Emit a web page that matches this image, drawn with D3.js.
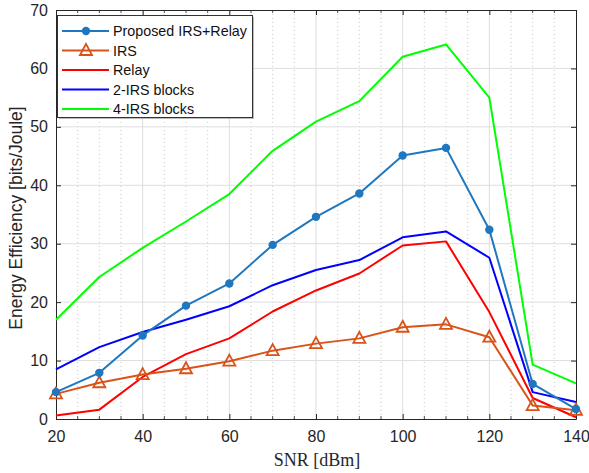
<!DOCTYPE html>
<html><head><meta charset="utf-8">
<script src="https://cdn.jsdelivr.net/npm/d3@7"></script>
<style>body{margin:0;background:#fff}</style>
</head><body>
<svg id="c" width="589" height="473"></svg>
<script>
const snr = [20,30,40,50,60,70,80,90,100,110,120,130,140];
const proposed = [4.6,7.9,14.3,19.4,23.2,29.8,34.6,38.6,45.1,46.4,32.4,6.0,1.7];
const irs      = [4.3,6.2,7.6,8.6,9.9,11.7,12.9,13.8,15.7,16.2,14.0,2.3,1.5];
const relay    = [0.6,1.6,7.2,11.1,13.8,18.4,22.0,24.9,29.7,30.4,18.3,3.6,0.3];
const irs2     = [8.5,12.3,14.9,17.0,19.3,22.9,25.5,27.2,31.1,32.1,27.6,4.6,2.9];
const irs4     = [17.0,24.3,29.3,33.8,38.5,45.9,50.9,54.4,62.0,64.1,55.0,9.3,6.1];
const xTicks = [20,40,60,80,100,120,140];
const yTicks = [0,10,20,30,40,50,60,70];
const xMinor = d3.range(20,141,5);
const seriesNames = ["Proposed IRS+Relay","IRS","Relay","2-IRS blocks","4-IRS blocks"];

const series = [
  {name:seriesNames[0], v:proposed, color:"#1f77bf", marker:"dot"},
  {name:seriesNames[1], v:irs, color:"#d95319", marker:"tri"},
  {name:seriesNames[2], v:relay, color:"#ff0000", marker:null},
  {name:seriesNames[3], v:irs2, color:"#0000ff", marker:null},
  {name:seriesNames[4], v:irs4, color:"#00ff00", marker:null}
];

const L=56,R=576,T=10,B=419;
const svg=d3.select("#c");
const x=d3.scaleLinear().domain([20,140]).range([L,R]);
const y=d3.scaleLinear().domain([0,70]).range([B,T]);
const axisCol="#262626";
const font="'Liberation Sans', Arial, sans-serif";

// minor grid (x)
svg.append("g").selectAll("line").data(xMinor.filter(d=>d%20!==0)).join("line")
  .attr("x1",d=>x(d)).attr("x2",d=>x(d)).attr("y1",T).attr("y2",B)
  .attr("stroke","#c8c8c8").attr("stroke-width",1).attr("stroke-dasharray","1,3");
// major grid
svg.append("g").selectAll("line").data(xTicks.slice(1,-1)).join("line")
  .attr("x1",d=>x(d)).attr("x2",d=>x(d)).attr("y1",T).attr("y2",B)
  .attr("stroke","#dedede").attr("stroke-width",1);
svg.append("g").selectAll("line").data(yTicks.slice(1,-1)).join("line")
  .attr("x1",L).attr("x2",R).attr("y1",d=>y(d)).attr("y2",d=>y(d))
  .attr("stroke","#dedede").attr("stroke-width",1);

// axes
const gx=svg.append("g").attr("transform",`translate(0,${B})`)
  .call(d3.axisBottom(x).tickValues(xTicks).tickSize(-5).tickPadding(12).tickSizeOuter(0));
const gxt=svg.append("g").attr("transform",`translate(0,${T})`)
  .call(d3.axisTop(x).tickValues(xTicks).tickSize(-5).tickFormat("").tickSizeOuter(0));
const gy=svg.append("g").attr("transform",`translate(${L},0)`)
  .call(d3.axisLeft(y).tickValues(yTicks).tickSize(-5).tickPadding(8).tickSizeOuter(0));
const gyr=svg.append("g").attr("transform",`translate(${R},0)`)
  .call(d3.axisRight(y).tickValues(yTicks).tickSize(-5).tickFormat("").tickSizeOuter(0));
// minor ticks on x
[[B,-3],[T,3]].forEach(([yy,dl])=>{
  svg.append("g").selectAll("line").data(xMinor.filter(d=>d%20!==0)).join("line")
    .attr("x1",d=>x(d)).attr("x2",d=>x(d)).attr("y1",yy).attr("y2",yy+dl)
    .attr("stroke",axisCol).attr("stroke-width",0.8);
});
[gx,gxt,gy,gyr].forEach(g=>{
  g.select(".domain").attr("stroke",axisCol).attr("stroke-width",1);
  g.selectAll(".tick line").attr("stroke",axisCol);
  g.selectAll("text").attr("fill",axisCol).style("font-family",font).style("font-size","16px");
});

// lines
const line=d3.line().x((d,i)=>x(snr[i])).y(d=>y(d));
series.slice().reverse().forEach(s=>{
  svg.append("path").datum(s.v).attr("d",line).attr("fill","none")
    .attr("stroke",s.color).attr("stroke-width",2).attr("stroke-linejoin","round");
  if(s.marker==="dot"){
    svg.append("g").selectAll("circle").data(s.v).join("circle")
      .attr("cx",(d,i)=>x(snr[i])).attr("cy",d=>y(d)).attr("r",4.2).attr("fill",s.color);
  } else if(s.marker==="tri"){
    svg.append("g").selectAll("path").data(s.v).join("path")
      .attr("transform",(d,i)=>`translate(${x(snr[i])},${y(d)})`)
      .attr("d","M0,-6.5L6,4.5L-6,4.5Z").attr("fill","none")
      .attr("stroke",s.color).attr("stroke-width",1.8);
  }
});

// legend
const lg=svg.append("g");
lg.append("rect").attr("x",59).attr("y",17).attr("width",195).attr("height",102).attr("fill","#bbb");
lg.append("rect").attr("x",57.5).attr("y",15.5).attr("width",195).attr("height",102)
  .attr("fill","#fff").attr("stroke","#333").attr("stroke-width",1);
series.forEach((s,i)=>{
  const yy=31+i*19.5;
  lg.append("line").attr("x1",62).attr("x2",109).attr("y1",yy).attr("y2",yy)
    .attr("stroke",s.color).attr("stroke-width",2);
  if(s.marker==="dot") lg.append("circle").attr("cx",86).attr("cy",yy).attr("r",4.2).attr("fill",s.color);
  if(s.marker==="tri") lg.append("path").attr("transform",`translate(86,${yy})`)
      .attr("d","M0,-6.5L6,4.5L-6,4.5Z").attr("fill","none").attr("stroke",s.color).attr("stroke-width",1.8);
  lg.append("text").attr("x",113).attr("y",yy+5).text(s.name)
    .style("font-family",font).style("font-size","14.3px").attr("fill","#111");
});

// axis labels
svg.append("text").attr("x",317).attr("y",466).attr("text-anchor","middle")
  .style("font-family","'Liberation Serif','DejaVu Serif',serif").style("font-size","18px")
  .attr("fill",axisCol).text("SNR [dBm]");
svg.append("text").attr("transform",`translate(22,218) rotate(-90)`).attr("text-anchor","middle")
  .style("font-family",font).style("font-size","17.5px").attr("fill",axisCol)
  .text("Energy Efficiency [bits/Joule]");
</script>
</body></html>
